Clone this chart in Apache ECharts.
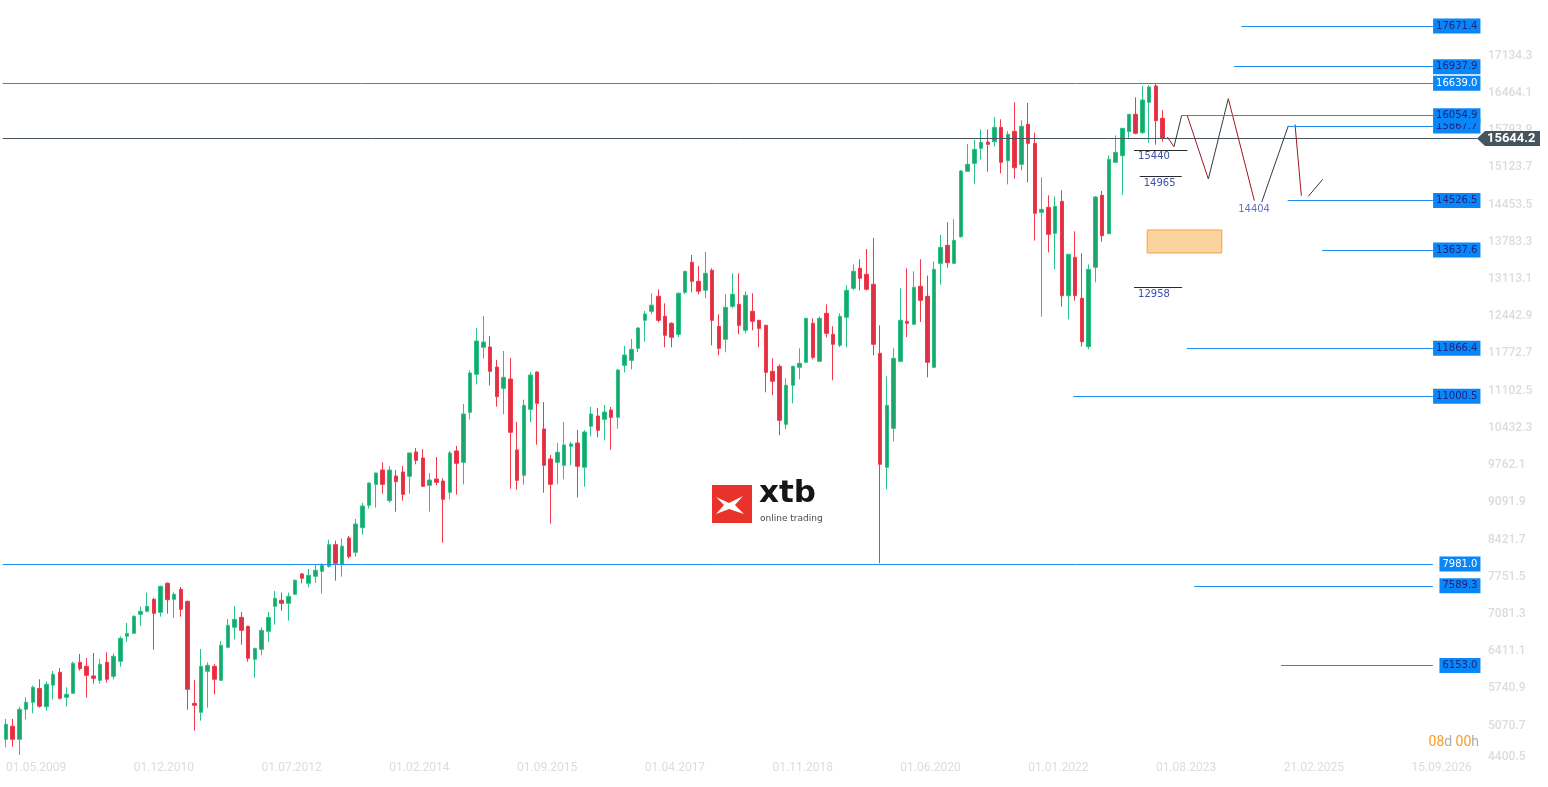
<!DOCTYPE html>
<html>
<head>
<meta charset="utf-8">
<script src="https://cdn.jsdelivr.net/npm/echarts@6/dist/echarts.min.js"></script>
<style>
html,body{margin:0;padding:0;background:#ffffff;}
#c{width:1548px;height:787px;}
</style>
</head>
<body>
<div id="c"></div>
<script>
// ---------- DATA (monthly candles, index 0 = 05.2009) ----------
const opens = [4824,5060,4824,5364,5491,5740,5412,5800,6031,5581,
5653,6211,6139,5965,5887,6211,5959,6229,6679,6733,
7075,7129,7345,7111,7634,7345,7526,7309,5473,5310,
6049,6139,5887,6481,6841,7021,6859,6265,6445,6769,
7219,7327,7273,7436,7802,7634,7760,7850,7940,8330,
7976,8450,8192,8636,9038,9416,9674,9122,9566,9638,
9560,9999,9891,9398,9512,9476,9272,10017,9813,10713,
11397,11884,11890,11529,11145,11313,10035,9578,10767,11439,
10413,9873,9813,9759,10101,10161,9723,10461,10647,10587,
10755,10623,11559,11649,11866,12370,12532,12802,12442,12316,
12118,12875,13415,13073,12911,13271,12262,12028,12622,12658,
12190,12532,12370,12280,11452,11542,10497,11200,11524,11614,
12316,11632,12496,12118,11920,12424,12947,13307,13199,13019,
11776,9723,10425,11632,12352,12298,12983,12802,11524,13396,
13720,13396,13877,15053,15197,15467,15581,15587,15846,15245,
15774,15179,15900,15557,14315,14405,13937,14513,12814,13504,
12766,11896,13324,14621,13931,15215,15335,15768,16080,15750,
16296,16590,16008];
const closes = [5094,4824,5364,5491,5761,5420,5815,5995,5563,5635,
6193,6097,5977,5923,6175,5905,6319,6643,6733,7039,
7129,7219,7093,7580,7339,7436,7165,5725,5437,6139,
6157,5905,6517,6877,6985,6787,6283,6463,6787,7021,
7363,7273,7399,7688,7724,7778,7868,7958,8330,7994,
8303,8114,8702,9026,9440,9620,9416,9674,9464,9236,
9981,9849,9380,9494,9452,9146,9981,9795,10683,11421,
11998,11980,11451,10995,11343,10353,9488,10839,11385,10875,
9759,9416,9993,10125,10143,9741,10359,10683,10389,10719,
10623,11475,11745,11848,12232,12484,12643,12370,12100,12064,
12857,13253,13073,12893,13217,12370,11866,12604,12839,12280,
12820,12352,12226,11434,11272,10569,11200,11542,11596,12406,
11704,12406,12136,11938,12442,12911,13253,13127,12929,11938,
9777,10839,11686,12370,12316,12965,12730,11614,13289,13684,
13408,13810,15059,15179,15449,15575,15539,15846,15215,15720,
15119,15864,15557,14297,14369,13919,14423,12814,13559,12814,
11986,13288,14591,13895,15269,15395,15828,16080,15738,16338,
16572,15966,15644.2];
const lows = [4680,4692,4542,5184,5292,5394,5340,5539,5540,5412,
5640,6061,5575,5827,5827,5845,5905,6133,6583,6727,
6871,7111,6439,7033,7087,7015,7033,5358,4980,5160,
5394,5635,5880,6475,6625,6529,6223,5935,6337,6583,
6889,7141,6961,7430,7634,7562,7646,7448,7916,7682,
7754,8080,8114,8510,8978,8996,9248,9086,8924,9122,
9248,9777,9370,8924,9398,8366,9146,9230,9416,10587,
11217,11679,11199,10815,10677,9338,9320,9410,10533,10131,
9266,8708,9416,9506,9759,9182,9374,10281,10263,10209,
10041,10419,11433,11487,11800,11986,12478,12334,11884,11884,
12064,12839,12875,12839,12767,11920,11740,11794,12586,12118,
12136,12190,11884,11074,11020,10299,10407,10876,11308,11600,
11668,11620,12064,11290,11884,11884,12911,12911,12911,11740,
7994,9327,10191,11614,12070,12290,12340,11344,11510,13012,
13318,13390,13858,15050,14831,15269,15047,15497,15017,14819,
14921,15071,14855,13805,12436,13594,13288,12616,12388,12724,
11896,11848,13054,13787,13920,15210,14627,15647,15720,15726,
15569,15533,15587];
const highs = [5190,5190,5412,5581,5791,5905,5863,6055,6109,5761,
6223,6361,6289,6379,6265,6391,6373,6679,6919,7057,
7213,7466,7375,7592,7652,7472,7568,7320,5893,6451,
6211,6181,6595,6991,7225,7117,6870,6470,6841,7117,
7496,7466,7466,7706,7820,7892,7982,7994,8420,8400,
8438,8486,8792,9080,9450,9630,9813,9746,9674,9746,
9990,10071,10053,9620,9909,9524,10017,10107,10863,11469,
12232,12448,12088,11655,11818,11691,10539,10941,11439,11450,
10899,9945,10161,10539,10179,10395,10395,10809,10791,10845,
10809,11493,11908,12034,12250,12538,12857,12929,12676,12334,
12875,13260,13547,13349,13601,13307,12478,12839,13217,13217,
12893,12857,12380,12290,11686,11578,11326,11550,11866,12410,
12406,12442,12658,12262,12496,13001,13379,13469,13655,13853,
12280,11362,11866,12947,13307,13253,13470,13175,13430,13907,
14135,14189,15077,15545,15617,15810,15810,16032,15990,15780,
16296,15972,16284,15750,14945,14621,14603,14711,13565,13973,
13576,13378,14609,14699,15341,15701,15832,16084,16386,16590,
16608,16630,16158];

const currentPrice = 15644.2;

// x ticks (month index from 05.2009) and their labels
const xTickIdx = [0,19,38,57,76,95,114,133,152,171,190,209];
const xTickLabels = ['01.05.2009','01.12.2010','01.07.2012','01.02.2014','01.09.2015','01.04.2017','01.11.2018','01.06.2020','01.01.2022','01.08.2023','21.02.2025','15.09.2026'];
// y ticks
const yTickValues = [4400.5,5070.7,5740.9,6411.1,7081.3,7751.5,8421.7,9091.9,9762.1,10432.3,11102.5,11772.7,12442.9,13113.1,13783.3,14453.5,15123.7,15793.9,16464.1,17134.3];

// horizontal levels (value, month index where the drawn line starts)
const levelValues = [17671.4,16937.9,16639.0,15867.7,16054.9,14526.5,13637.6,11866.4,11000.5,7981.0,7589.3,6153.0];
const levelStarts = [183.7,182.6,-0.5,190.7,174.84,190.6,195.7,175.6,158.7,-0.5,176.7,189.6];
const levelEnd = 212.2;
const levelMajor = [false,false,true,false,false,false,false,false,false,true,false,false];

// short black marker levels
const markerValues = [15440,14965,12958];
const markerStarts = [167.75,168.6,167.75];
const markerEnds = [175.68,174.84,174.9];

// projected wave (month index, price) segments
const waveUp = [
  [[173.69,15497],[174.84,16063]],
  [[178.80,14915],[181.77,16362]],
  [[186.74,14501],[190.70,15875]],
  [[193.67,14604],[195.81,14910]]
];
const waveDown = [
  [[172.70,15672],[173.69,15497]],
  [[175.67,16055],[178.80,14915]],
  [[181.77,16362],[185.64,14525]],
  [[191.69,15900],[192.63,14615]]
];
const waveLabel = {idx:185.6, value:14375, text:'14404'};
// target zone
const zone = {from:169.7, to:180.8, low:13583, high:13997};

// ---------- CHART ----------
const chart = echarts.init(document.getElementById('c'), null, {renderer:'canvas'});
const candleData = opens.map((o,i)=>[i, o, closes[i], lows[i], highs[i]]);

const levelLines = levelValues.map((v,i)=>[
  {coord:[levelStarts[i], v],
   lineStyle:{color:'#1f8ef1', width:1, type:'solid'},
   label:{show:true, position:'end', formatter:v.toFixed(1), align:'right', verticalAlign:'middle',
     distance:47.5, backgroundColor:'#0b86f7', color: levelMajor[i] ? '#ffffff' : '#1c2580',
     fontFamily:'DejaVu Sans', fontSize:10, lineHeight:11, padding:[2,3,2,3]}},
  {coord:[levelEnd, v]}
]);
const markerLines = markerValues.map((v,i)=>[
  {coord:[markerStarts[i], v], lineStyle:{color:'#2b2b2b', width:1, type:'solid'},
   label:{show:true, position:'insideStartBottom', formatter:String(v), color:'#3f4fae',
     fontFamily:'DejaVu Sans', fontSize:10, distance:[4,2]}},
  {coord:[markerEnds[i], v]}
]);
const waveLines = waveUp.map(s=>[{coord:s[0], lineStyle:{color:'#333a40', width:1, type:'solid'}, label:{show:false}},{coord:s[1]}])
  .concat(waveDown.map(s=>[{coord:s[0], lineStyle:{color:'#a3161c', width:1, type:'solid'}, label:{show:false}},{coord:s[1]}]));
const priceLine = [[{coord:[-0.5,currentPrice], lineStyle:{color:'#46545e', width:1, type:'solid'}, label:{show:false}},{coord:[218.75,currentPrice]}]];

chart.setOption({
  animation:false,
  backgroundColor:'#ffffff',
  grid:{left:2.64, right:65.96, top:0, bottom:17, containLabel:false, outerBoundsMode:'none'},
  xAxis:{
    type:'value', min:-0.5, max:219.5,
    axisLine:{show:false}, axisTick:{show:false}, splitLine:{show:false},
    axisLabel:{
      customValues:xTickIdx,
      formatter:(v)=>{const k=xTickIdx.indexOf(Math.round(v)); return k>=0?xTickLabels[k]:'';},
      color:'#dcdcdc', fontFamily:'Roboto', fontSize:12, align:'left', verticalAlign:'middle', margin:-2
    }
  },
  yAxis:{
    type:'value', position:'right', min:4271.5, max:18139, scale:true,
    axisLine:{show:false}, axisTick:{show:false}, splitLine:{show:false},
    axisLabel:{
      customValues:yTickValues,
      formatter:(v)=>{const s=Number(v).toFixed(1); return Number(v)===yTickValues[0] ? '{lift|'+s+'}' : s;},
      rich:{lift:{color:'#dcdcdc', fontFamily:'Roboto', fontSize:12, fontWeight:500, padding:[0,0,11,0]}},
      color:'#dcdcdc', fontFamily:'Roboto', fontSize:12, fontWeight:500, align:'left', margin:6
    }
  },
  series:[
    {
      type:'candlestick',
      data:candleData,
      encode:{x:0, y:[1,2,3,4]},
      barWidth:4,
      clip:false,
      itemStyle:{color:'#1fa46c', color0:'#da3343', borderColor:'#27c485', borderColor0:'#f2384a', borderWidth:1},
      markArea:{
        silent:true,
        data:[[{coord:[zone.from, zone.low], itemStyle:{color:'#fbd39f', borderColor:'#f5a04a', borderWidth:1}},{coord:[zone.to, zone.high]}]]
      },
      markLine:{
        silent:true, symbol:['none','none'], animation:false,
        data: priceLine.concat(markerLines, waveLines, levelLines)
      }
    },
    {
      type:'scatter',
      data:[[waveLabel.idx, waveLabel.value]],
      symbolSize:1,
      itemStyle:{color:'rgba(0,0,0,0)'},
      label:{show:true, position:'inside', formatter:waveLabel.text, color:'#3f4fae', fontFamily:'DejaVu Sans', fontSize:10},
      silent:true
    }
  ]
});

// price tag and overlays
const py = chart.convertToPixel({yAxisIndex:0}, currentPrice);
const px = chart.convertToPixel({xAxisIndex:0}, 218.75);
chart.setOption({
  graphic:[
    {type:'polygon', z:100, shape:{points:[[px,py],[px+8,py-7.5],[px+63,py-7.5],[px+63,py+7.5],[px+8,py+7.5]]}, style:{fill:'#46545e'}},
    {type:'text', z:101, x:px+10, y:py, style:{text:currentPrice.toFixed(1), fill:'#ffffff', font:'bold 13px Roboto', verticalAlign:'middle', align:'left'}},
    // xtb logo
    {type:'rect', z:50, shape:{x:712, y:485, width:40, height:38}, style:{fill:'#e8322a'}},
    {type:'polygon', z:51, shape:{points:[[716,497],[729,503],[743,496],[735,505],[744,514],[729,509],[716,514],[724,505]]}, style:{fill:'#ffffff'}},
    {type:'text', z:51, x:759, y:509, style:{text:'xtb', fill:'#161616', font:'bold 31px "DejaVu Sans"', verticalAlign:'bottom', align:'left'}},
    {type:'text', z:51, x:760, y:519, style:{text:'online trading', fill:'#4a4a4a', font:'9px "DejaVu Sans"', verticalAlign:'middle', align:'left'}},
    // countdown
    {type:'text', z:51, x:1479, y:742, style:{
      text:'{o|08}{g|d} {o|00}{g|h}', align:'right', verticalAlign:'middle',
      rich:{o:{fill:'#ff9a1f', font:'14px Roboto'}, g:{fill:'#a8adb3', font:'14px Roboto'}}}}
  ]
});
</script>
</body>
</html>
